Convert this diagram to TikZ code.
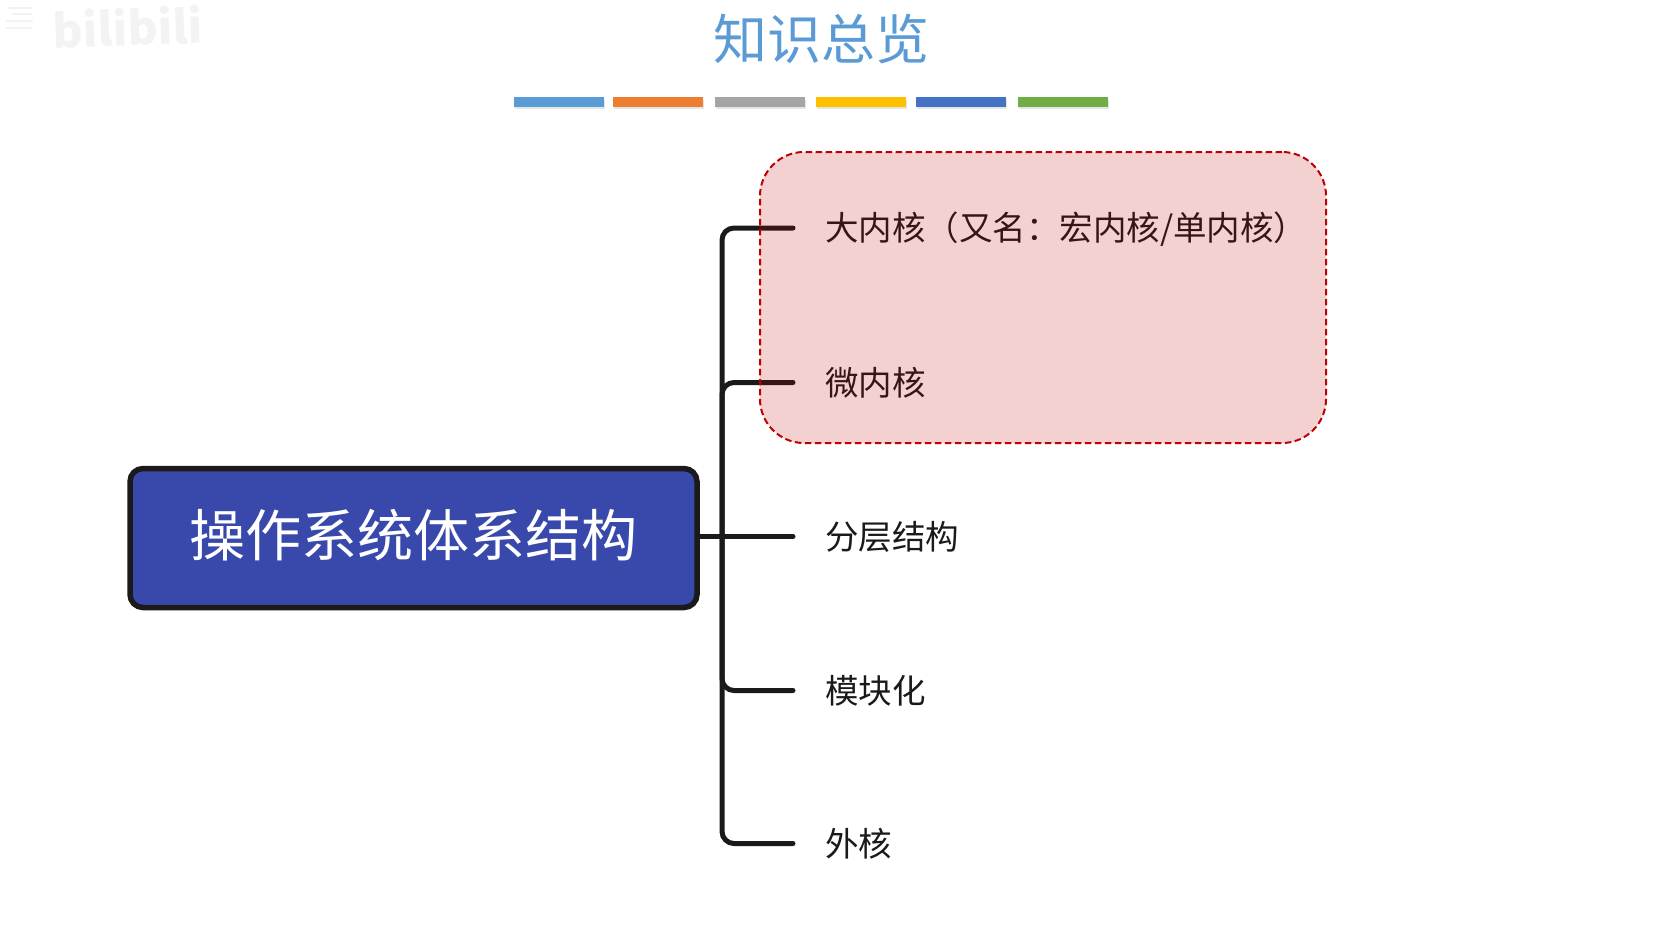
\documentclass[tikz,border=0pt]{standalone}
\usepackage{fontspec}
\setmainfont{Noto Sans CJK SC}
\definecolor{tblue}{HTML}{5B9BD5}
\definecolor{torange}{HTML}{ED7D31}
\definecolor{tgray}{HTML}{A5A5A5}
\definecolor{tyellow}{HTML}{FFC000}
\definecolor{tdblue}{HTML}{4472C4}
\definecolor{tgreen}{HTML}{70AD47}
\definecolor{rootfill}{HTML}{3949AB}
\definecolor{ink}{HTML}{1A1A1A}
\definecolor{boxred}{HTML}{C00000}
\definecolor{wm}{HTML}{F3F3F3}
\tikzset{
  x=1pt,y=-1pt,
  barstyle/.style={minimum width=90pt,minimum height=9.5pt,inner sep=0pt,outer sep=0pt,anchor=north west},
  shadowbar/.style={barstyle,fill=black,opacity=0.10},
  rootbox/.style={draw=ink,line width=5.5pt,fill=rootfill,rounded corners=13pt,minimum width=567pt,minimum height=139pt,inner sep=0pt,text=white,font=\fontsize{56.1}{60}\selectfont},
  leaf/.style={anchor=west,inner sep=0pt,text=ink,text height=29pt,text depth=4pt,font=\fontsize{33.5}{38}\selectfont},
  conn/.style={draw=ink,line width=5pt,line cap=round,rounded corners=12pt,shorten >=32pt},
  groupbox/.style={draw=boxred,line width=2pt,dash pattern=on 6.5pt off 3.5pt,fill=boxred,fill opacity=0.18,draw opacity=1,rounded corners=44pt,minimum width=566pt,minimum height=291pt,inner sep=0pt},
}
\begin{document}
\begin{tikzpicture}
\useasboundingbox (0,0) rectangle (1677,950);
% watermark
\node[text=wm,font=\fontsize{46}{46}\selectfont\bfseries,inner sep=0pt,rotate=2] (wmark) at (128,27) {bilibili};
\foreach \yy/\xa/\xb in {8/8/32,14/12/32,21/6/33,28/6/32}
  \draw[wm,line width=1.5pt] (\xa,\yy) -- (\xb,\yy);
% title
\node[text=tblue,font=\fontsize{54}{58}\selectfont,inner sep=0pt] (title) at (821,39) {知识总览};
% bars
\foreach \n/\xx/\cc in {a/514/tblue,b/612.5/torange,c/715/tgray,d/816/tyellow,e/916/tdblue,f/1017.5/tgreen}{
  \node[shadowbar] (s\n) at (\xx+1,99.5) {};
  \node[barstyle,fill=\cc] (bar\n) at (\xx,97) {};
}
% root
\node[rootbox] (root) at (413.5,538) {\raisebox{9.5pt}{操作系统体系结构}};
% leaves
\node[leaf] (l1) at (825,228) {大内核（又名：宏内核/单内核）};
\node[leaf] (l2) at (825,382.5) {微内核};
\node[leaf] (l3) at (825,536.5) {分层结构};
\node[leaf] (l4) at (825,690.5) {模块化};
\node[leaf] (l5) at (825,843.5) {外核};
\coordinate (trunk) at (722,536.5);
% connectors
\draw[conn] (root.east |- trunk) -- (l3.west);
\draw[conn] (trunk) |- (l1.west);
\draw[conn] (trunk) |- (l2.west);
\draw[conn] (trunk) |- (l4.west);
\draw[conn] (trunk) |- (l5.west);
% translucent group on top
\node[groupbox] (group) at (1043,297.5) {};
\end{tikzpicture}
\end{document}
